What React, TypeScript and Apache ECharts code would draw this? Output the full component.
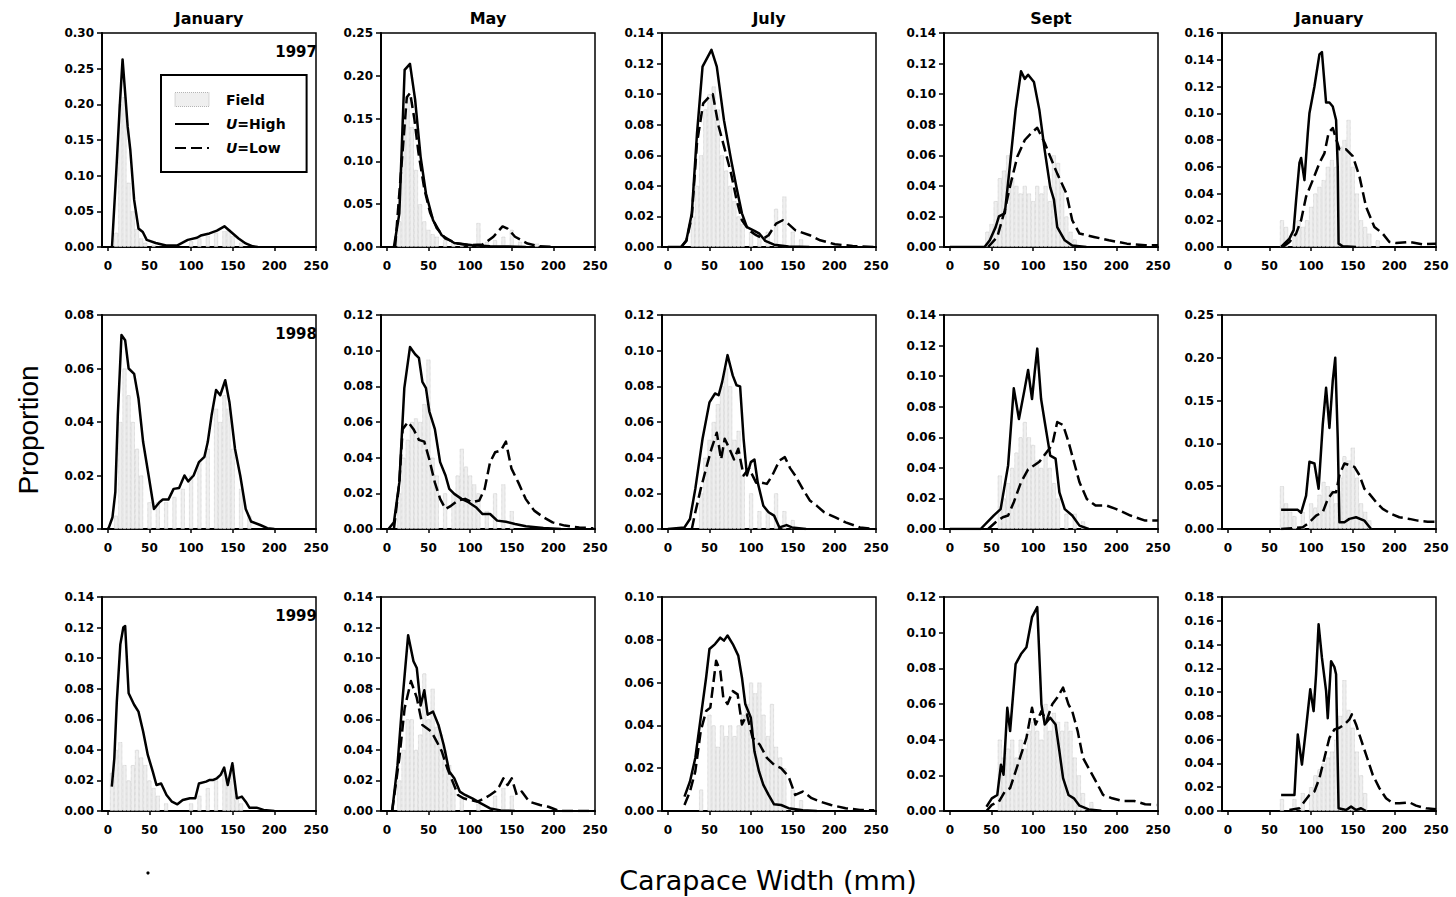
import React, { useEffect, useRef } from "react";
import * as echarts from "echarts";

// ---------- labels ----------
const monthTitles = ["January", "May", "July", "Sept", "January"];
const yearLabels = ["1997", "1998", "1999"];
const xTickValues = [0, 50, 100, 150, 200, 250];
const yMaxRow1 = [0.3, 0.25, 0.14, 0.14, 0.16];
const yMaxRow2 = [0.08, 0.12, 0.12, 0.14, 0.25];
const yMaxRow3 = [0.14, 0.14, 0.1, 0.12, 0.18];
const yStepRow1 = [0.05, 0.05, 0.02, 0.02, 0.02];
const yStepRow2 = [0.02, 0.02, 0.02, 0.02, 0.05];
const yStepRow3 = [0.02, 0.02, 0.02, 0.02, 0.02];

// ---------- Row 1 (1997) ----------
const fieldJan97 = [[10,0.02],[15,0.2],[20,0.21],[25,0.09],[30,0.05],[35,0.025],[40,0.012],[45,0.006],[55,0.003],[100,0.008],[110,0.012],[120,0.015],[130,0.02],[140,0.022],[145,0.025],[150,0.015],[160,0.006]];
const highJan97 = [[5,0],[10,0.103],[14.3,0.197],[17.7,0.263],[20.8,0.216],[23.8,0.169],[27,0.136],[31.6,0.066],[36.8,0.026],[42,0.021],[46.7,0.01],[57.5,0.0056],[70,0.002],[83,0.002],[96,0.01],[107,0.013],[111.6,0.016],[122,0.019],[131,0.023],[140,0.029],[148,0.021],[157,0.012],[165.6,0.005],[174,0.001],[180,0]];

const fieldMay97 = [[15,0.03],[20,0.15],[25,0.175],[30,0.14],[35,0.09],[40,0.05],[45,0.03],[50,0.02],[55,0.015],[60,0.012],[70,0.008],[80,0.006],[90,0.005],[100,0.004],[110,0.028],[120,0.006],[130,0.008],[140,0.012],[150,0.02],[160,0.006],[180,0.004]];
const highMay97 = [[8.5,0],[15,0.039],[21.4,0.207],[27.8,0.214],[34,0.172],[40.6,0.105],[47,0.0625],[55.6,0.031],[66,0.0137],[81,0.0047],[102.6,0.002],[124,0.001],[167,0]];
const lowMay97 = [[10,0],[18,0.1],[24,0.175],[28,0.18],[33,0.15],[38,0.11],[45,0.068],[52,0.04],[60,0.022],[70,0.01],[85,0.004],[100,0.002],[115,0.003],[119.7,0.006],[128,0.012],[139,0.024],[145,0.0215],[154,0.012],[169,0.004],[182,0.001],[200,0]];

const fieldJul97 = [[30,0.02],[35,0.04],[40,0.06],[45,0.09],[50,0.1],[55,0.105],[60,0.09],[65,0.06],[70,0.05],[75,0.04],[80,0.03],[85,0.02],[90,0.015],[100,0.01],[110,0.008],[120,0.01],[130,0.025],[140,0.033],[150,0.01],[160,0.005]];
const highJul97 = [[0,0],[16,0],[22.3,0.0044],[28.8,0.022],[35,0.074],[41.7,0.118],[52.4,0.129],[58.8,0.118],[67.4,0.083],[76,0.057],[82.5,0.039],[89,0.022],[95,0.013],[104,0.0105],[110,0.0087],[117,0.004],[127.6,0.0015],[145,0.0004],[170,0]];
const lowJul97 = [[16,0],[22.3,0.004],[28.8,0.02],[35,0.068],[42.5,0.094],[50,0.0985],[54,0.1],[61,0.079],[67.4,0.066],[76,0.048],[82.5,0.031],[89,0.0175],[97.5,0.011],[106,0.0077],[114.7,0.0055],[121,0.0077],[130,0.0153],[138,0.0175],[145,0.015],[153,0.011],[170.5,0.0077],[183,0.0044],[200.6,0.0018],[222,0.0007],[248,0]];

const fieldSep97 = [[45,0.01],[50,0.015],[55,0.03],[60,0.045],[65,0.05],[70,0.06],[75,0.045],[80,0.04],[85,0.035],[90,0.04],[95,0.035],[100,0.03],[105,0.04],[110,0.035],[115,0.04],[120,0.03],[125,0.06],[130,0.055],[135,0.04],[140,0.02],[145,0.01],[150,0.005]];
const highSep97 = [[0,0],[41.7,0],[48,0.0044],[55,0.013],[59,0.02],[66,0.022],[72,0.0525],[79,0.0897],[85.5,0.115],[90,0.11],[94,0.1127],[101,0.108],[107.5,0.0897],[114,0.063],[120.6,0.039],[125,0.031],[129,0.013],[138,0.0044],[147,0.001],[164,0]];
const lowSep97 = [[46,0],[57,0.0066],[66,0.024],[72,0.039],[81,0.059],[90,0.07],[98.7,0.075],[105,0.078],[114,0.068],[120.6,0.059],[129,0.048],[140,0.035],[147,0.0175],[155.7,0.0088],[173,0.0066],[191,0.0044],[212.7,0.0022],[234.6,0.0011],[250,0.0011]];

const fieldJan98b = [[65,0.02],[70,0.015],[80,0.01],[85,0.02],[90,0.015],[95,0.02],[100,0.03],[105,0.04],[110,0.045],[115,0.05],[120,0.06],[125,0.065],[130,0.06],[135,0.075],[140,0.08],[145,0.095],[150,0.06],[155,0.04],[160,0.02],[165,0.015],[170,0.01],[180,0.005]];
const highJan98b = [[64,0],[74,0.0063],[79,0.0126],[82,0.035],[86,0.0628],[88,0.0666],[92,0.05],[96,0.085],[98,0.1],[104,0.12],[110,0.144],[113,0.1457],[118,0.108],[122,0.108],[126,0.105],[130,0.095],[132,0.06],[133,0.0025],[138,0.0005],[154,0]];
const lowJan98b = [[66,0],[74,0.0038],[82,0.01],[88,0.02],[94,0.0377],[102,0.05],[110,0.0628],[116,0.07],[121,0.0854],[126,0.089],[134,0.073],[142,0.073],[150,0.068],[158,0.053],[166,0.03],[176,0.015],[186,0.01],[194,0.0038],[202,0.003],[218,0.0038],[234,0.002],[250,0.0025]];

// ---------- Row 2 (1998) ----------
const fieldJan98 = [[10,0.005],[15,0.04],[20,0.06],[25,0.05],[30,0.04],[35,0.03],[40,0.02],[50,0.01],[60,0.01],[70,0.01],[80,0.012],[90,0.015],[100,0.02],[110,0.025],[120,0.03],[130,0.045],[135,0.04],[140,0.05],[145,0.045],[150,0.03],[160,0.015],[170,0.005]];
const highJan98 = [[0,0],[1.3,0.0006],[5.6,0.0044],[9,0.0138],[12,0.0425],[16.4,0.0725],[20.8,0.0706],[25,0.06],[31.6,0.058],[36.8,0.0488],[42.4,0.0325],[49,0.02],[55.4,0.0075],[62,0.01],[66,0.011],[72.7,0.011],[79,0.015],[85.6,0.0153],[92,0.02],[96.5,0.0178],[103,0.02],[109.4,0.025],[116,0.027],[120,0.0325],[124.6,0.0425],[130,0.052],[135,0.05],[141,0.0556],[146,0.0475],[152.7,0.03],[159,0.02],[165.6,0.0075],[172,0.0028],[183,0.0015],[191.6,0.0003],[200,0]];

const fieldMay98 = [[15,0.02],[20,0.04],[25,0.05],[30,0.06],[35,0.062],[40,0.06],[45,0.07],[50,0.095],[55,0.04],[60,0.03],[70,0.02],[80,0.02],[85,0.03],[90,0.045],[95,0.035],[100,0.03],[105,0.025],[110,0.02],[120,0.01],[130,0.02],[140,0.025],[150,0.01]];
const highMay98 = [[2,0],[8.5,0.0037],[15,0.026],[21,0.079],[27.8,0.102],[34,0.098],[38.5,0.096],[42.7,0.0825],[47,0.079],[51,0.066],[57.7,0.056],[64,0.0375],[70.5,0.03],[75,0.0225],[81,0.0197],[89.7,0.0169],[98,0.015],[107,0.0122],[115,0.0084],[124,0.0084],[132.5,0.0047],[143,0.0041],[154,0.0028],[167,0.0015],[188,0.0006],[209,0]];
const lowMay98 = [[8.5,0],[15,0.026],[19,0.056],[25.6,0.06],[32,0.056],[38.5,0.05],[45,0.049],[51,0.039],[57.7,0.026],[64,0.0169],[70.5,0.0112],[77,0.013],[85.5,0.016],[94,0.0169],[102.6,0.015],[111,0.016],[117.5,0.0225],[124,0.0375],[130,0.043],[137,0.044],[143,0.049],[149.6,0.034],[158,0.026],[166.7,0.0169],[177,0.0103],[188,0.0066],[199,0.0037],[213.7,0.0019],[231,0.0009],[248,0.0004]];

const fieldJul98 = [[40,0.02],[45,0.04],[50,0.05],[55,0.06],[60,0.07],[65,0.08],[70,0.09],[75,0.08],[80,0.05],[85,0.055],[90,0.03],[100,0.02],[110,0.01],[120,0.01],[130,0.02],[140,0.01],[150,0.005]];
const highJul98 = [[0,0],[20,0.0009],[26.6,0.0056],[33,0.0225],[41.7,0.0506],[50,0.071],[56.7,0.076],[61,0.075],[65.3,0.0825],[71.7,0.0975],[78,0.086],[82.5,0.0806],[86.8,0.08],[91,0.0506],[95,0.03],[99.7,0.0375],[104,0.039],[108,0.026],[114.7,0.013],[121,0.0094],[127.6,0.0075],[134,0.0009],[142.6,0.0022],[149,0.0009],[166,0]];
const lowJul98 = [[28.8,0],[33,0.0094],[39.5,0.0225],[46,0.034],[52.4,0.045],[58.8,0.054],[64,0.039],[68.3,0.0506],[74,0.045],[79.5,0.039],[84.6,0.045],[91,0.03],[97.5,0.034],[106,0.026],[112.5,0.026],[119,0.0253],[125.4,0.03],[134,0.0384],[140.5,0.0403],[147,0.034],[153,0.03],[162,0.0225],[170.5,0.016],[179,0.013],[187.7,0.0094],[200.6,0.0066],[213.5,0.0037],[230.7,0.0009],[248,0]];

const fieldSep98 = [[60,0.035],[65,0.02],[70,0.03],[75,0.04],[80,0.05],[85,0.06],[90,0.07],[95,0.06],[100,0.055],[105,0.045],[110,0.04],[115,0.05],[120,0.04],[125,0.03],[130,0.02],[140,0.01],[150,0.01],[160,0.005]];
const highSep98 = [[0,0],[37,0],[52.6,0.0088],[61,0.013],[70,0.0416],[76.8,0.092],[83,0.072],[90,0.092],[94,0.104],[98.7,0.085],[102,0.103],[105,0.118],[109.6,0.085],[114,0.07],[120.6,0.048],[127,0.046],[131.6,0.024],[138,0.013],[147,0.0088],[155.7,0.0022],[166.7,0]];
const lowSep98 = [[46,0],[55,0.0044],[63.6,0.0077],[70,0.0088],[76.8,0.0175],[85.5,0.0306],[94,0.039],[101,0.0416],[107.5,0.044],[116,0.05],[123,0.055],[129,0.07],[136,0.068],[142.5,0.057],[149,0.044],[155.7,0.0306],[164.5,0.0197],[175,0.0153],[188.6,0.0153],[200,0.013],[217,0.0088],[234.6,0.0055],[250,0.0055]];

const fieldJan99b = [[65,0.05],[70,0.03],[75,0.02],[80,0.015],[90,0.02],[100,0.03],[105,0.025],[110,0.04],[115,0.055],[120,0.05],[125,0.045],[130,0.03],[135,0.06],[140,0.085],[145,0.08],[150,0.095],[155,0.06],[160,0.03],[165,0.02],[170,0.01]];
const highJan99b = [[64,0.0224],[84,0.0224],[88,0.019],[94,0.039],[98,0.0785],[104,0.0765],[109,0.047],[114,0.122],[118,0.165],[122,0.118],[126,0.173],[129,0.2],[132,0.106],[134,0.0078],[140,0.0078],[146,0.0118],[154,0.0137],[164,0.0098],[172,0]];
const lowJan99b = [[64,0],[90,0.002],[98,0.0078],[106,0.0157],[114,0.0196],[120,0.035],[126,0.043],[130,0.043],[134,0.063],[140,0.0765],[146,0.0746],[152,0.0726],[158,0.063],[164,0.047],[170,0.041],[178,0.0314],[186,0.0235],[196,0.0177],[206,0.0137],[218,0.0118],[228,0.0098],[240,0.0086],[250,0.0086]];

// ---------- Row 3 (1999) ----------
const fieldJan99 = [[5,0.025],[10,0.04],[15,0.045],[20,0.03],[25,0.02],[30,0.03],[35,0.04],[40,0.035],[45,0.03],[50,0.02],[55,0.015],[60,0.01],[70,0.005],[100,0.005],[110,0.01],[120,0.015],[130,0.02],[140,0.025],[145,0.02],[150,0.03],[155,0.01],[160,0.005]];
const highJan99 = [[4.8,0.016],[7.8,0.0345],[10.8,0.0716],[15,0.109],[18.6,0.12],[20.8,0.121],[25,0.077],[31.6,0.0695],[36.8,0.065],[42.4,0.052],[48,0.0367],[54,0.0258],[58.4,0.017],[64,0.018],[70.5,0.0105],[77,0.0061],[83.5,0.0044],[90,0.0072],[98.6,0.0083],[105,0.0083],[109.4,0.018],[118,0.0192],[122.4,0.0203],[126.7,0.0203],[131,0.0214],[135.4,0.0236],[139.7,0.0284],[144,0.017],[149.6,0.0312],[155,0.0083],[161,0.0094],[165.6,0.0061],[170,0.0022],[178.6,0.0022],[187,0.0007],[200,0]];

const fieldMay99 = [[15,0.02],[20,0.04],[25,0.06],[30,0.06],[35,0.04],[40,0.05],[45,0.09],[50,0.06],[55,0.08],[60,0.055],[65,0.05],[70,0.04],[75,0.03],[80,0.02],[90,0.01],[110,0.005],[130,0.01],[140,0.015],[150,0.01]];
const highMay99 = [[6.4,0],[12.8,0.03],[19,0.074],[25.6,0.115],[32,0.098],[36,0.0935],[40.6,0.069],[45,0.079],[49,0.063],[55.5,0.065],[62,0.0563],[68.4,0.043],[75,0.0258],[81,0.0214],[87.6,0.0127],[94,0.0105],[102.6,0.0083],[113,0.005],[124,0.0017],[136.8,0.0004],[154,0]];
const lowMay99 = [[6.4,0],[15,0.0345],[21.4,0.0673],[29,0.085],[36,0.074],[42.7,0.0563],[53.4,0.052],[60,0.0454],[66,0.039],[72.6,0.028],[79,0.0192],[85.5,0.0105],[92,0.0083],[100,0.0072],[109,0.0061],[117.5,0.0083],[124,0.0105],[130,0.0127],[135,0.016],[140,0.0214],[145,0.017],[150,0.0214],[156,0.0105],[162,0.0127],[171,0.0061],[184,0.0039],[194,0.0028],[207,0],[250,0]];

const fieldJul99 = [[40,0.01],[50,0.045],[55,0.04],[60,0.03],[65,0.04],[70,0.035],[75,0.04],[80,0.035],[85,0.04],[90,0.045],[95,0.05],[100,0.06],[105,0.055],[110,0.06],[115,0.045],[120,0.035],[125,0.05],[130,0.03],[135,0.025],[140,0.02],[150,0.01],[160,0.005]];
const highJul99 = [[20,0.0067],[26.6,0.0138],[33,0.0248],[39.5,0.0436],[46,0.0624],[50,0.0757],[56.7,0.078],[63,0.081],[67.4,0.0796],[71.7,0.082],[78,0.078],[84.6,0.0726],[89,0.0624],[93,0.05],[99.7,0.0436],[104,0.0279],[109.5,0.0185],[114.7,0.0122],[121,0.0075],[127.6,0.0031],[136,0.0028],[145,0.0013],[162,0.0003],[179,0]];
const lowJul99 = [[20,0.0028],[26.6,0.0091],[33,0.0185],[39.5,0.0373],[46,0.0467],[51,0.0483],[58,0.0702],[63,0.0655],[66.6,0.053],[71.7,0.05],[78,0.056],[83.8,0.0545],[89,0.0404],[95,0.0451],[101.8,0.0342],[110.4,0.031],[119,0.0248],[127.6,0.0216],[136,0.02],[145,0.0161],[153,0.0075],[162,0.0091],[172.7,0.006],[183,0.0044],[196,0.0028],[213.5,0.0013],[230.7,0.0005],[248,0.0003]];

const fieldSep99 = [[60,0.04],[65,0.03],[70,0.035],[75,0.04],[80,0.03],[85,0.04],[90,0.035],[95,0.045],[100,0.05],[105,0.045],[110,0.04],[115,0.06],[120,0.045],[125,0.055],[130,0.05],[135,0.045],[140,0.05],[145,0.045],[150,0.03],[155,0.02],[160,0.01],[170,0.005]];
const highSep99 = [[44,0.0024],[50.4,0.0071],[57,0.009],[61.4,0.026],[64.5,0.0203],[69,0.0579],[72.4,0.0448],[79,0.0824],[85.5,0.088],[92,0.0918],[98.7,0.1087],[105,0.1144],[110,0.0598],[114,0.0485],[120.6,0.0523],[127,0.0485],[131.6,0.0335],[136,0.0184],[142.5,0.009],[149,0.0071],[155.7,0.003],[166.7,0.0009],[182,0.0002]];
const lowSep99 = [[44,0],[50.4,0.0034],[59,0.0053],[66,0.0109],[72.4,0.0128],[79,0.0222],[85.5,0.0316],[92,0.041],[98.7,0.0579],[103,0.0485],[110,0.056],[116,0.0504],[123,0.0598],[129,0.0636],[136,0.0692],[142.5,0.0598],[147,0.056],[153.5,0.0448],[160,0.0297],[166.7,0.024],[175.4,0.0166],[184,0.009],[195,0.0071],[208,0.0056],[221.5,0.0056],[234.6,0.0038],[248,0.0034]];

const fieldJan00 = [[65,0.01],[80,0.01],[90,0.015],[100,0.02],[105,0.03],[110,0.035],[115,0.04],[120,0.045],[125,0.05],[130,0.06],[135,0.08],[140,0.11],[145,0.085],[150,0.07],[155,0.05],[160,0.03],[165,0.015]];
const highJan00 = [[64,0.0135],[80,0.0135],[84,0.0643],[89,0.039],[94,0.07],[99,0.1024],[103,0.084],[106,0.115],[109,0.157],[113,0.129],[118,0.101],[120,0.078],[124,0.126],[128,0.121],[130,0.115],[133,0.0023],[142,0.0008],[148,0.0037],[154,0.0008],[160,0.0023],[166,0]];
const lowJan00 = [[74,0.0008],[86,0.0023],[92,0.0079],[98,0.0135],[104,0.0164],[110,0.0276],[116,0.0446],[122,0.0615],[128,0.0686],[134,0.07],[140,0.0728],[146,0.077],[149,0.0813],[154,0.0728],[160,0.06],[166,0.0474],[174,0.0305],[182,0.0192],[190,0.0107],[198,0.0065],[206,0.0065],[218,0.0073],[226,0.0045],[238,0.0023],[250,0.0014]];

// panel tables (references to the arrays above)
const fieldPanels = [
  [fieldJan97, fieldMay97, fieldJul97, fieldSep97, fieldJan98b],
  [fieldJan98, fieldMay98, fieldJul98, fieldSep98, fieldJan99b],
  [fieldJan99, fieldMay99, fieldJul99, fieldSep99, fieldJan00],
];
const highPanels = [
  [highJan97, highMay97, highJul97, highSep97, highJan98b],
  [highJan98, highMay98, highJul98, highSep98, highJan99b],
  [highJan99, highMay99, highJul99, highSep99, highJan00],
];
const lowPanels = [
  [null, lowMay97, lowJul97, lowSep97, lowJan98b],
  [null, lowMay98, lowJul98, lowSep98, lowJan99b],
  [null, lowMay99, lowJul99, lowSep99, lowJan00],
];
const yMaxRows = [yMaxRow1, yMaxRow2, yMaxRow3];
const yStepRows = [yStepRow1, yStepRow2, yStepRow3];

// ---------- layout ----------
const COL_LEFT = [102, 381, 662, 944, 1222];
const ROW_TOP = [33, 315, 597];
const PANEL_W = 214;
const PANEL_H = 214;
const FONT = "DejaVu Sans";
const FIELD_FILL = "#efefef";
const FIELD_EDGE = "#b4b4b4";

function buildOption() {
  const grid: any[] = [];
  const xAxis: any[] = [];
  const yAxis: any[] = [];
  const series: any[] = [];
  const graphic: any[] = [];
  const tickFont = { fontFamily: FONT, fontWeight: "bold", fontSize: 12, color: "#000" };

  for (let r = 0; r < 3; r++) {
    for (let c = 0; c < 5; c++) {
      const idx = r * 5 + c;
      grid.push({
        left: COL_LEFT[c],
        top: ROW_TOP[r],
        width: PANEL_W,
        height: PANEL_H,
        show: true,
        borderColor: "#000",
        borderWidth: 1.5,
        backgroundColor: "transparent",
      });
      xAxis.push({
        gridIndex: idx,
        type: "value",
        min: -7,
        max: 250,
        axisLine: { show: true, onZero: false, lineStyle: { color: "#000", width: 2 } },
        axisTick: { show: true, length: 4, customValues: xTickValues, lineStyle: { color: "#000", width: 1.5 } },
        axisLabel: { customValues: xTickValues, margin: 13, ...tickFont },
        splitLine: { show: false },
      });
      yAxis.push({
        gridIndex: idx,
        type: "value",
        min: 0,
        max: yMaxRows[r][c],
        interval: yStepRows[r][c],
        axisLine: { show: true, onZero: false, lineStyle: { color: "#000", width: 2 } },
        axisTick: { show: true, length: 5, lineStyle: { color: "#000", width: 1.5 } },
        axisLabel: { margin: 8, formatter: (v: number) => v.toFixed(2), ...tickFont },
        splitLine: { show: false },
      });
      series.push({
        type: "bar",
        name: "Field",
        xAxisIndex: idx,
        yAxisIndex: idx,
        data: fieldPanels[r][c],
        barWidth: 4,
        silent: true,
        z: 1,
        itemStyle: { color: FIELD_FILL, borderColor: FIELD_EDGE, borderWidth: 0.6, borderType: "dotted" },
      });
      series.push({
        type: "line",
        name: "U=High",
        xAxisIndex: idx,
        yAxisIndex: idx,
        data: highPanels[r][c],
        symbol: "none",
        showSymbol: false,
        silent: true,
        z: 3,
        lineStyle: { color: "#000", width: 2.5, join: "round" },
        itemStyle: { color: "#000" },
      });
      const low = lowPanels[r][c];
      if (low) {
        series.push({
          type: "line",
          name: "U=Low",
          xAxisIndex: idx,
          yAxisIndex: idx,
          data: low,
          symbol: "none",
          showSymbol: false,
          silent: true,
          z: 3,
          lineStyle: { color: "#000", width: 2.5, type: [11, 5], join: "round" },
          itemStyle: { color: "#000" },
        });
      }
    }
  }

  monthTitles.forEach((t, c) => {
    graphic.push({
      type: "text",
      x: COL_LEFT[c] + PANEL_W / 2,
      y: 18,
      style: { text: t, font: `bold 16px "${FONT}"`, fill: "#000", align: "center", verticalAlign: "middle" },
    });
  });
  yearLabels.forEach((t, r) => {
    graphic.push({
      type: "text",
      x: COL_LEFT[0] + PANEL_W + 1,
      y: ROW_TOP[r] + 19,
      z: 10,
      style: { text: t, font: `bold 15px "${FONT}"`, fill: "#000", align: "right", verticalAlign: "middle" },
    });
  });
  graphic.push({
    type: "text",
    x: 28,
    y: 430,
    rotation: Math.PI / 2,
    style: { text: "Proportion", font: `28px "Liberation Sans"`, fill: "#000", align: "center", verticalAlign: "middle" },
  });
  graphic.push({
    type: "text",
    x: 768,
    y: 880,
    style: { text: "Carapace Width (mm)", font: `27px "${FONT}"`, fill: "#000", align: "center", verticalAlign: "middle" },
  });
  graphic.push({ type: "circle", shape: { cx: 148, cy: 873, r: 1.6 }, style: { fill: "#000" } });

  const legendRich = {
    f: { fontFamily: FONT, fontWeight: "bold", fontSize: 14, color: "#000", padding: [0, 0, 0, 12] },
    i: { fontFamily: FONT, fontWeight: "bold", fontStyle: "italic", fontSize: 14, color: "#000", padding: [0, 0, 0, 12] },
    n: { fontFamily: FONT, fontWeight: "bold", fontSize: 14, color: "#000" },
  };

  return {
    animation: false,
    backgroundColor: "#fff",
    grid,
    xAxis,
    yAxis,
    series,
    graphic,
    legend: {
      data: [
        { name: "Field", icon: "rect", itemStyle: { color: FIELD_FILL, borderColor: FIELD_EDGE, borderWidth: 1, borderType: "dotted" } },
        { name: "U=High", itemStyle: { opacity: 0 } },
        { name: "U=Low", itemStyle: { opacity: 0 } },
      ],
      orient: "vertical",
      left: 161,
      top: 75,
      padding: [17, 21, 17, 13],
      itemWidth: 34,
      itemHeight: 14,
      itemGap: 10,
      borderColor: "#000",
      borderWidth: 2,
      backgroundColor: "#fff",
      selectedMode: false,
      formatter: (name: string) => (name === "Field" ? "{f|Field}" : "{i|U}{n|" + name.slice(1) + "}"),
      textStyle: { rich: legendRich },
    },
  };
}

export default function App() {
  const ref = useRef<HTMLDivElement>(null);
  useEffect(() => {
    if (!ref.current) return;
    const chart = echarts.init(ref.current, null, { renderer: "svg" });
    chart.setOption(buildOption() as any);
    return () => chart.dispose();
  }, []);
  return (
    <div
      ref={ref}
      style={{ position: "fixed", left: 0, top: 0, width: 1456, height: 897, background: "#fff" }}
    />
  );
}
